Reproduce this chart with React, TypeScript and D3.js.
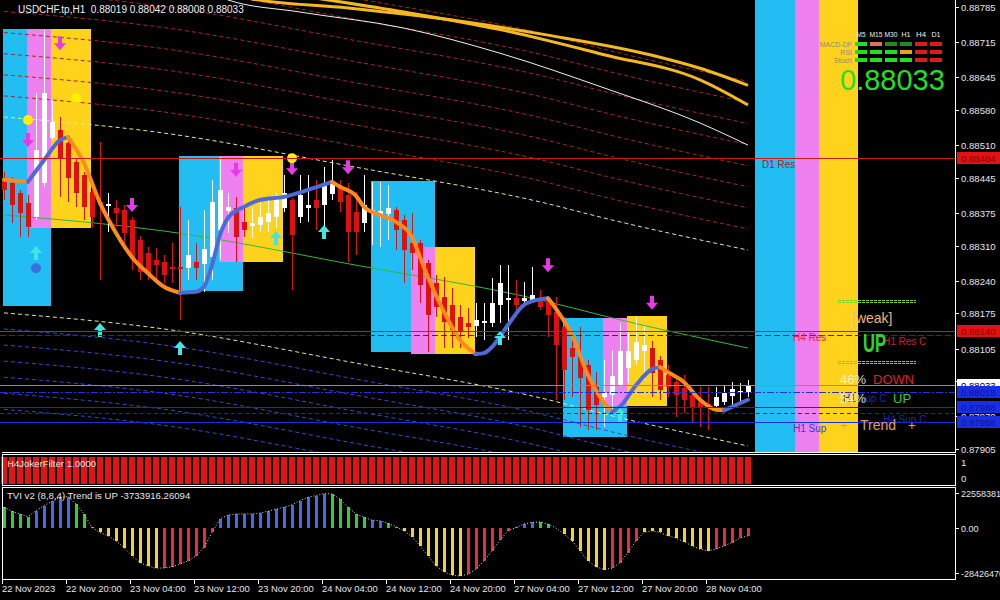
import React from "react";
import * as d3 from "d3";

const FONT = "'Liberation Sans', Arial, sans-serif";

// ---------- axis labels ----------
const timeLabels = ["22 Nov 2023", "22 Nov 20:00", "23 Nov 04:00", "23 Nov 12:00", "23 Nov 20:00", "24 Nov 04:00", "24 Nov 12:00", "24 Nov 20:00", "27 Nov 04:00", "27 Nov 12:00", "27 Nov 20:00", "28 Nov 04:00"];
const timeLabelBar = [0, 8, 16, 24, 32, 40, 48, 56, 64, 72, 80, 88];
const priceTicks = [0.88785, 0.88715, 0.88645, 0.8858, 0.8851, 0.88445, 0.88375, 0.8831, 0.8824, 0.88175, 0.88105, 0.8804, 0.8797, 0.87905];

// ---------- candles (H1) ----------
const open = [
  0.88441, 0.88435, 0.88415, 0.88395, 0.88367, 0.88435, 0.88524, 0.8854, 0.88514, 0.88476,
  0.88451, 0.88417, 0.88397, 0.88389, 0.88385, 0.88381, 0.88361, 0.88321, 0.88295, 0.88281,
  0.88277, 0.88267, 0.88267, 0.88265, 0.88277, 0.88273, 0.88287, 0.88341, 0.88379, 0.88385,
  0.88357, 0.88349, 0.88351, 0.88357, 0.88367, 0.88385, 0.88401, 0.88367, 0.88385, 0.88401,
  0.88391, 0.88413, 0.88427, 0.88411, 0.88377, 0.88355, 0.88375, 0.88373, 0.88373, 0.88381,
  0.88361, 0.88315, 0.88315, 0.88275, 0.88235, 0.88208, 0.88192, 0.88168, 0.88156, 0.8815,
  0.88156, 0.88156, 0.88192, 0.88202, 0.88206, 0.882, 0.882, 0.88202, 0.88202, 0.88178,
  0.88148, 0.88106, 0.88088, 0.88072, 0.88028, 0.88009, 0.88012, 0.8803, 0.88066, 0.88082,
  0.881, 0.88106, 0.88082, 0.88052, 0.88038, 0.88026, 0.88012, 0.87999, 0.87995, 0.87991,
  0.87999, 0.88011, 0.88018, 0.88019];
const close = [
  0.88421, 0.88391, 0.88375, 0.88347, 0.885, 0.88614, 0.88556, 0.88484, 0.88445, 0.88415,
  0.88387, 0.88367, 0.88391, 0.88393, 0.88375, 0.88335, 0.88285, 0.88257, 0.88255, 0.88271,
  0.88251, 0.88263, 0.88263, 0.88291, 0.88265, 0.88303, 0.88397, 0.88421, 0.88387, 0.88327,
  0.88341, 0.88355, 0.88367, 0.88375, 0.88405, 0.88415, 0.88331, 0.88411, 0.88391, 0.88385,
  0.88431, 0.88435, 0.88397, 0.88337, 0.88337, 0.88391, 0.88381, 0.88379, 0.88385, 0.88341,
  0.88301, 0.88295, 0.88232, 0.88172, 0.88188, 0.88158, 0.88142, 0.88138, 0.88148, 0.88162,
  0.8816, 0.88196, 0.88235, 0.88206, 0.88192, 0.88206, 0.88212, 0.88188, 0.88172, 0.88112,
  0.88062, 0.88088, 0.88046, 0.87983, 0.87993, 0.88017, 0.8805, 0.881, 0.881, 0.88118,
  0.88112, 0.88056, 0.88022, 0.88028, 0.88012, 0.88003, 0.87989, 0.87987, 0.87989, 0.88009,
  0.88017, 0.88024, 0.8802, 0.88033];
const high = [
  0.88456, 0.88447, 0.88421, 0.88411, 0.88614, 0.88739, 0.886, 0.88566, 0.8852, 0.88484,
  0.88456, 0.88421, 0.88516, 0.88415, 0.88401, 0.88391, 0.88367, 0.88329, 0.88307, 0.88305,
  0.88291, 0.88315, 0.88387, 0.88361, 0.88315, 0.88381, 0.88441, 0.88486, 0.88415, 0.88407,
  0.88387, 0.88387, 0.88395, 0.88401, 0.88415, 0.88451, 0.88405, 0.88451, 0.88451, 0.88441,
  0.88466, 0.8848, 0.88441, 0.88435, 0.88417, 0.88451, 0.88437, 0.88437, 0.88431, 0.88387,
  0.88371, 0.88375, 0.88321, 0.88281, 0.88251, 0.88247, 0.88226, 0.88192, 0.88186, 0.88196,
  0.88196, 0.88245, 0.88271, 0.88271, 0.88241, 0.88237, 0.88267, 0.88222, 0.88208, 0.88208,
  0.88168, 0.88126, 0.88148, 0.88082, 0.88058, 0.88082, 0.88102, 0.88156, 0.8814, 0.88168,
  0.8815, 0.8812, 0.8809, 0.88072, 0.88052, 0.88052, 0.88022, 0.88028, 0.88028, 0.88028,
  0.88032, 0.88038, 0.88036, 0.88042];
const low = [
  0.88401, 0.88355, 0.88327, 0.88327, 0.88361, 0.88427, 0.8852, 0.88407, 0.88397, 0.88387,
  0.88361, 0.88347, 0.88241, 0.88337, 0.88347, 0.88301, 0.88261, 0.88241, 0.88241, 0.88241,
  0.88235, 0.88235, 0.88162, 0.88241, 0.88241, 0.88218, 0.88241, 0.88281, 0.88335, 0.88277,
  0.88327, 0.88325, 0.88337, 0.88337, 0.88345, 0.88377, 0.88222, 0.88355, 0.88357, 0.88341,
  0.88341, 0.88401, 0.88377, 0.88277, 0.88291, 0.88337, 0.88311, 0.88307, 0.88321, 0.88301,
  0.88235, 0.88261, 0.88196, 0.88098, 0.88168, 0.88106, 0.88106, 0.88106, 0.88126, 0.88128,
  0.88122, 0.88148, 0.88156, 0.88122, 0.88168, 0.88196, 0.88196, 0.88182, 0.88128, 0.88003,
  0.88003, 0.88009, 0.87949, 0.87943, 0.87943, 0.87949, 0.87977, 0.88028, 0.88036, 0.88072,
  0.88042, 0.88009, 0.88003, 0.88009, 0.87969, 0.87977, 0.87957, 0.87949, 0.87943, 0.87983,
  0.87993, 0.87989, 0.87999, 0.88008];

// ---------- smoothed trend line (blue rising / orange falling) ----------
const hmaBar = [0, 3, 5, 7, 8, 10, 12, 14, 16, 18, 20, 22, 24, 25, 26, 27, 28, 30, 32, 35, 38, 41, 42, 44, 45, 47, 49, 51, 52, 53, 55, 57, 59, 60, 61, 63, 65, 67, 68, 69, 71, 73, 75, 76, 77, 79, 81, 82, 83, 85, 87, 89, 90, 91, 93];
const hmaVal = [0.88441, 0.88437, 0.8848, 0.8852, 0.88526, 0.88474, 0.88395, 0.88335, 0.88287, 0.88255, 0.88228, 0.88216, 0.88218, 0.88228, 0.88271, 0.88331, 0.88365, 0.88387, 0.88401, 0.88407, 0.88421, 0.88437, 0.88427, 0.88409, 0.88387, 0.88371, 0.88357, 0.88327, 0.88287, 0.88247, 0.88178, 0.88122, 0.88094, 0.88096, 0.88108, 0.88152, 0.88192, 0.88203, 0.88205, 0.88184, 0.88132, 0.88052, 0.87997, 0.87979, 0.87989, 0.88032, 0.88064, 0.88068, 0.88058, 0.88038, 0.88003, 0.87983, 0.87982, 0.87989, 0.88003];

// ---------- moving average + envelope ----------
const maBar = [0, 20, 44, 67, 76, 93];
const maVal = [0.88371, 0.88339, 0.88271, 0.88202, 0.88166, 0.88106];
const envYellowOffset = 0.00195;
const envUpperOffsets = [0.00237, 0.00279, 0.00321, 0.00363, 0.00405, 0.00447, 0.00489, 0.00531];
const envLowerOffsets = [0.00227, 0.00259, 0.00291, 0.00323, 0.00355, 0.00387];

// ---------- long moving averages (top right) ----------
const whiteMaBar = [26, 28, 37, 50, 62, 75, 87, 93];
const whiteMaVal = [0.88815, 0.88799, 0.88775, 0.88743, 0.88693, 0.88624, 0.88554, 0.8851];
const goldMa1Bar = [29, 31, 43, 56, 68, 81, 87, 93];
const goldMa1Val = [0.88815, 0.88801, 0.88783, 0.88759, 0.88729, 0.88689, 0.88663, 0.88629];
const goldMa2Bar = [38, 50, 62, 75, 87, 93];
const goldMa2Val = [0.88805, 0.88775, 0.8874, 0.8869, 0.8864, 0.8859];

// ---------- zones ----------
const zoneFrom = [-0.125, 2.875, 5.875, 21.875, 26.875, 29.875, 45.875, 50.875, 53.875, 69.875, 74.875, 77.875, 93.875, 98.875, 101.875];
const zoneTo = [5.875, 5.875, 10.875, 29.875, 29.875, 34.875, 53.875, 53.875, 58.875, 77.875, 77.875, 82.875, 98.875, 101.875, 106.75];
const zoneTop = [0.88741, 0.88741, 0.88741, 0.88488, 0.88488, 0.88488, 0.88439, 0.88307, 0.88307, 0.88166, 0.88166, 0.8817, 0.8881, 0.8881, 0.8881];
const zoneBottom = [0.8819, 0.88345, 0.88345, 0.8822, 0.88277, 0.88277, 0.88098, 0.88094, 0.88094, 0.87929, 0.87991, 0.87991, 0.8788, 0.8788, 0.8788];
const zoneKind = ["c", "m", "g", "c", "m", "g", "c", "m", "g", "c", "m", "g", "c", "m", "g"];

// ---------- signals ----------
const downArrowBar = [7, 3, 16, 29, 36, 43, 68, 81];
const downArrowPrice = [0.88713, 0.8852, 0.88391, 0.88461, 0.88464, 0.88466, 0.88271, 0.88196];
const upArrowBar = [4, 12, 22, 34, 40, 62, 77];
const upArrowPrice = [0.88295, 0.88142, 0.88106, 0.88325, 0.88337, 0.88126, 0.87973];
const yellowDotBar = [3, 9, 36];
const yellowDotPrice = [0.8856, 0.88604, 0.88484];
const blueDotBar = [4];
const blueDotPrice = [0.88265];

// ---------- levels ----------
const levelPrice = [0.88484, 0.8814, 0.88132, 0.88033, 0.88018, 0.87988, 0.87977, 0.87958];
const levelColor = ["#c81818", "#d41818", "#8a1010", "#8c8c8c", "#2232d8", "#1a28c8", "#1a2aa0", "#1a30e0"];
const levelDash = ["", "", "6,3", "", "7,2,2,2", "", "4,3", ""];
const levelLabel = ["D1 Res", "H4 Res", "H1 Res C", "", "H1 Sup C", "", "H4 Sup C", "H1 Sup"];
const levelLabelX = [762, 793, 883, 0, 843, 0, 883, 793];
const levelLabelColor = ["#b42020", "#e02848", "#d02020", "", "#1a2ab0", "", "#1a2ab0", "#2a40e8"];
const levelBoxFill = ["#e31212", "#e31212", "", "#ffffff", "#1a2ee8", "#1a2ee8", "", "#1a2ee8"];
const levelBoxText = ["#8a0000", "#8a0000", "", "#000000", "#0a1690", "#0a1690", "", "#0a1690"];

// ---------- sub indicators ----------
const joker = [1, 1, 1, 1, 1, 1, 1, 1, 1, 1, 1, 1, 1, 1, 1, 1, 1, 1, 1, 1, 1, 1, 1, 1, 1, 1, 1, 1, 1, 1, 1, 1, 1, 1, 1, 1, 1, 1, 1, 1, 1, 1, 1, 1, 1, 1, 1, 1, 1, 1, 1, 1, 1, 1, 1, 1, 1, 1, 1, 1, 1, 1, 1, 1, 1, 1, 1, 1, 1, 1, 1, 1, 1, 1, 1, 1, 1, 1, 1, 1, 1, 1, 1, 1, 1, 1, 1, 1, 1, 1, 1, 1, 1, 1];
const tvi = [
  13.4, 10.9, 9.2, 7.5, 11.3, 14.5, 17.3, 19.8, 20.3, 15.6,
  9.2, 0.6, -2.6, -4.7, -7.9, -12.2, -17.5, -21.8, -23.9, -25.4,
  -25.2, -24.5, -22.8, -20.7, -17.5, -12.2, -2.6, 6.0, 8.5, 9.2,
  9.2, 9.2, 9.8, 10.9, 12.4, 13.4, 15.1, 17.7, 19.8, 20.9,
  22.2, 21.9, 18.8, 13.4, 9.2, 7.0, 5.3, 4.9, 3.2, 1.1,
  -1.5, -5.3, -11.1, -17.5, -23.9, -27.5, -29.9, -30.3, -29.2, -26.0,
  -20.7, -14.3, -7.5, -1.5, 0.6, 2.8, 3.8, 4.1, 2.8, 0.2,
  -3.6, -7.9, -14.3, -20.7, -24.5, -26.2, -25.4, -21.8, -15.4, -7.9,
  -2.6, -1.5, -2.6, -4.7, -6.2, -8.5, -11.1, -13.2, -14.3, -13.2,
  -11.1, -9.0, -6.2, -4.7];
const tviState = "GGGGBBBBBGGGYYYYYYYYRRRRRRRBBBBBBBBBBBBBBGGGGGBBGGYYYYYYYYRRRRRRBBBGGGYYYYYYRRRRYYYYYYYYYRRRRR";
const tviAxisValues = [22.558381, 0, -28.42647];
const tviAxisLabels = ["22558381.", "0.00", "-28426470"];

// ---------- multi timeframe panel ----------
const mtfFrames = ["M5", "M15", "M30", "H1", "H4", "D1"];
const mtfFrameWidth = [9, 13, 13, 9, 10, 9];
const mtfRowNames = ["MACD-DF", "RSI", "Stoch"];
const mtfRow0 = ["#22dd22", "#e07060", "#1f8a1f", "#1f8a1f", "#e01818", "#e01818"];
const mtfRow1 = ["#22dd22", "#22dd22", "#22dd22", "#e8a020", "#e01818", "#e01818"];
const mtfRow2 = ["#22dd22", "#22dd22", "#22dd22", "#22dd22", "#e01818", "#e01818"];

const ZONE_COL: Record<string, string> = { c: "#22bdf2", m: "#ef80ef", g: "#ffd31c" };
const TVI_COL: Record<string, string> = { G: "#33cc33", B: "#4a6ae0", Y: "#f2d232", R: "#e03048" };

function downArrow(cx: number, cy: number) {
  return `M${cx - 2},${cy - 7}H${cx + 2}V${cy}H${cx + 6}L${cx},${cy + 7}L${cx - 6},${cy}H${cx - 2}Z`;
}
function upArrow(cx: number, cy: number) {
  return `M${cx - 2},${cy + 7}H${cx + 2}V${cy}H${cx + 6}L${cx},${cy - 7}L${cx - 6},${cy}H${cx - 2}Z`;
}

export default function App() {
  const x = d3.scaleLinear().domain([0, 93]).range([4, 748]);
  const y = d3.scaleLinear().domain([0.87905, 0.88785]).range([449, 7]);
  const yJ = d3.scaleLinear().domain([0, 1]).range([484, 457]);
  const yT = d3.scaleLinear().domain([-28.42647, 22.558381]).range([573, 493]);

  const line = d3.line<[number, number]>().curve(d3.curveMonotoneX);
  const bandPath = (off: number) => line(maBar.map((b, i) => [x(b), y(maVal[i] + off)] as [number, number])) || "";

  // split smoothed line into rising / falling runs
  const runs: { up: boolean; pts: [number, number][] }[] = [];
  let cur: [number, number][] = [[x(hmaBar[0]), y(hmaVal[0])]];
  let dir = hmaVal[1] >= hmaVal[0];
  for (let i = 1; i < hmaBar.length; i++) {
    const d = hmaVal[i] >= hmaVal[i - 1];
    if (d !== dir && cur.length > 1) {
      runs.push({ up: dir, pts: cur });
      cur = [[x(hmaBar[i - 1]), y(hmaVal[i - 1])]];
      dir = d;
    }
    cur.push([x(hmaBar[i]), y(hmaVal[i])]);
  }
  runs.push({ up: dir, pts: cur });

  const tviLine = d3.line<number>().x((_, i) => x(i)).y((v) => yT(v));

  const txt = (props: any, s: string) => (
    <text fontFamily={FONT} fontSize={9.6} fill="#e6e6e6" {...props}>{s}</text>
  );

  return (
    <svg width={1000} height={600} style={{ position: "absolute", left: 0, top: 0, background: "#000" }}>
      <rect x={0} y={0} width={1000} height={600} fill="#000" />
      <defs>
        <clipPath id="main"><rect x={0} y={0} width={955} height={452} /></clipPath>
      </defs>

      <g clipPath="url(#main)">
        {/* zones */}
        {zoneFrom.map((f, i) => (
          <rect key={"z" + i} x={x(f)} width={x(zoneTo[i]) - x(f)} y={y(zoneTop[i])} height={y(zoneBottom[i]) - y(zoneTop[i])} fill={ZONE_COL[zoneKind[i]]} shapeRendering="crispEdges" />
        ))}

        {/* envelope bands */}
        {envUpperOffsets.map((o, i) => (
          <path key={"u" + i} d={bandPath(o)} fill="none" stroke="#a82828" strokeWidth={1} strokeDasharray="4,3" />
        ))}
        <path d={bandPath(envYellowOffset)} fill="none" stroke="#e8e88a" strokeWidth={1} strokeDasharray="4,3" />
        <path d={bandPath(-envYellowOffset)} fill="none" stroke="#e8e88a" strokeWidth={1} strokeDasharray="4,3" />
        {envLowerOffsets.map((o, i) => (
          <path key={"l" + i} d={bandPath(-o)} fill="none" stroke="#2f4fc8" strokeWidth={1} strokeDasharray="4,3" />
        ))}
        <path d={line(maBar.map((b, i) => [x(b), y(maVal[i])] as [number, number])) || ""} fill="none" stroke="#3cb43c" strokeWidth={1} />

        {/* long MAs */}
        <path d={line(whiteMaBar.map((b, i) => [x(b), y(whiteMaVal[i])] as [number, number])) || ""} fill="none" stroke="#f0f0f0" strokeWidth={1} />
        <path d={line(goldMa1Bar.map((b, i) => [x(b), y(goldMa1Val[i])] as [number, number])) || ""} fill="none" stroke="#f5b820" strokeWidth={3} />
        <path d={line(goldMa2Bar.map((b, i) => [x(b), y(goldMa2Val[i])] as [number, number])) || ""} fill="none" stroke="#f5b820" strokeWidth={3} />

        {/* candles */}
        {open.map((o, i) => {
          const c = close[i];
          const up = c >= o;
          const col = up ? "#ffffff" : "#e01010";
          const t = y(Math.max(o, c));
          const b = y(Math.min(o, c));
          return (
            <g key={"c" + i} shapeRendering="crispEdges">
              <line x1={x(i) + 0.5} x2={x(i) + 0.5} y1={y(high[i])} y2={y(low[i])} stroke={col} />
              <rect x={x(i) - 2} y={t} width={5} height={Math.max(1, b - t)} fill={col} />
            </g>
          );
        })}

        {/* smoothed line */}
        {runs.map((r, i) => (
          <path key={"h" + i} d={line(r.pts) || ""} fill="none" stroke={r.up ? "#4f6ad8" : "#ff8a1c"} strokeWidth={4} strokeLinecap="round" />
        ))}

        {/* signals */}
        {downArrowBar.map((b, i) => (
          <path key={"da" + i} d={downArrow(x(b), y(downArrowPrice[i]))} fill="#e838e8" />
        ))}
        {upArrowBar.map((b, i) => (
          <path key={"ua" + i} d={upArrow(x(b), y(upArrowPrice[i]))} fill="#40e6e6" />
        ))}
        {yellowDotBar.map((b, i) => (
          <circle key={"yd" + i} cx={x(b)} cy={y(yellowDotPrice[i])} r={5} fill="#fff000" />
        ))}
        {blueDotBar.map((b, i) => (
          <circle key={"bd" + i} cx={x(b)} cy={y(blueDotPrice[i])} r={5} fill="#3a70e0" />
        ))}

        {/* levels */}
        {levelPrice.map((p, i) => (
          <line key={"lv" + i} x1={0} x2={955} y1={Math.round(y(p)) + 0.5} y2={Math.round(y(p)) + 0.5} stroke={levelColor[i]} strokeDasharray={levelDash[i] || undefined} />
        ))}
        {levelPrice.map((p, i) =>
          levelLabel[i] ? (
            <text key={"ll" + i} x={levelLabelX[i]} y={y(p) + 10} fontFamily={FONT} fontSize={10} fill={levelLabelColor[i]}>{levelLabel[i]}</text>
          ) : null
        )}

        {/* info panel */}
        <line x1={838} x2={916} y1={300.5} y2={300.5} stroke="#88d020" strokeDasharray="3,1" />
        <line x1={838} x2={916} y1={302.5} y2={302.5} stroke="#88d020" strokeDasharray="3,1" />
        <line x1={838} x2={916} y1={361.5} y2={361.5} stroke="#88d020" strokeDasharray="3,1" />
        <line x1={838} x2={916} y1={363.5} y2={363.5} stroke="#88d020" strokeDasharray="3,1" />
        <text x={852} y={323} fontFamily={FONT} fontSize={14} fill="#e8b878">
          <tspan fill="#d8c0a0">[</tspan>weak]
        </text>
        <text x={863} y={352} fontFamily={FONT} fontSize={25} fontWeight="bold" fill="#2cd42c" textLength={23} lengthAdjust="spacingAndGlyphs">UP</text>
        <text x={840} y={384} fontFamily={FONT} fontSize={13} fill="#fff8e0" fillOpacity={0.85}>46%</text>
        <text x={873} y={384} fontFamily={FONT} fontSize={13} fill="#e02020">DOWN</text>
        <text x={840} y={403} fontFamily={FONT} fontSize={13} fill="#fff8e0" fillOpacity={0.85}>54%</text>
        <text x={893} y={403} fontFamily={FONT} fontSize={13} fill="#30d030">UP</text>
        <text x={840} y={430} fontFamily={FONT} fontSize={13} fill="#e0a060">+</text>
        <text x={860} y={430} fontFamily={FONT} fontSize={14} fill="#e0a060">Trend</text>
        <text x={908} y={430} fontFamily={FONT} fontSize={13} fill="#e0a060">+</text>

        {/* multi timeframe panel */}
        {mtfFrames.map((f, j) => (
          <text key={"tf" + j} x={861 + j * 15} y={37} fontFamily={FONT} fontSize={8} fill="#f0f0f0" textAnchor="middle" textLength={mtfFrameWidth[j]} lengthAdjust="spacingAndGlyphs">{f}</text>
        ))}
        {mtfRowNames.map((n, r) => (
          <text key={"rn" + r} x={852} y={47 + r * 8} fontFamily={FONT} fontSize={7} fill="#8a8a7a" textAnchor="end">{n}</text>
        ))}
        {[mtfRow0, mtfRow1, mtfRow2].map((row, r) =>
          row.map((c, j) => <rect key={"m" + r + j} x={855 + j * 15} y={42 + r * 8} width={12} height={4} fill={c} />)
        )}
        <text x={840} y={90} fontFamily={FONT} fontSize={29} fill="#22e022">0.88033</text>

        {/* title */}
        <text x={18} y={13} fontFamily={FONT} fontSize={10} fill="#f0f0f0" style={{ whiteSpace: "pre" }}>{"USDCHF.tp,H1  0.88019 0.88042 0.88008 0.88033"}</text>
      </g>

      {/* joker filter panel */}
      {joker.map((v, i) => (
        <rect key={"j" + i} x={x(i) - 3} y={yJ(v)} width={6} height={yJ(0) - yJ(v)} fill="#e41414" shapeRendering="crispEdges" />
      ))}
      {txt({ x: 7, y: 467 }, "H4JokerFilter 1.0000")}

      {/* TVI panel */}
      {tvi.map((v, i) => (
        <rect key={"t" + i} x={x(i) - 1} y={Math.min(yT(v), yT(0))} width={3} height={Math.abs(yT(v) - yT(0))} fill={TVI_COL[tviState[i]]} shapeRendering="crispEdges" />
      ))}
      <path d={tviLine(tvi) || ""} fill="none" stroke="#e0e0e0" strokeWidth={1} strokeDasharray="1,2" />
      {txt({ x: 7, y: 499 }, "TVI v2 (8,8,4) Trend is UP -3733916.26094")}

      {/* frames */}
      <g stroke="#ffffff" fill="none" shapeRendering="crispEdges">
        <line x1={955.5} x2={955.5} y1={0} y2={452} />
        <line x1={2} x2={956} y1={452.5} y2={452.5} />
        <rect x={2.5} y={454.5} width={953} height={31} />
        <rect x={2.5} y={487.5} width={953} height={92} />
      </g>

      {/* price axis */}
      {priceTicks.map((p, i) => (
        <g key={"pt" + i}>
          <line x1={955} x2={959} y1={Math.round(y(p)) + 0.5} y2={Math.round(y(p)) + 0.5} stroke="#fff" />
          {txt({ x: 961, y: y(p) + 4 }, p.toFixed(5))}
        </g>
      ))}
      {levelPrice.map((p, i) =>
        levelBoxFill[i] ? (
          <g key={"bx" + i}>
            <rect x={957} y={Math.round(y(p)) - 6} width={43} height={12} fill={levelBoxFill[i]} />
            <text x={961} y={y(p) + 4} fontFamily={FONT} fontSize={9.6} fill={levelBoxText[i]}>{p.toFixed(5)}</text>
          </g>
        ) : null
      )}
      {/* sub-panel axes */}
      {txt({ x: 961, y: yJ(1) + 9 }, "1")}
      {txt({ x: 961, y: yJ(0) - 2 }, "0")}
      {tviAxisValues.map((v, i) => (
        <g key={"ta" + i}>
          <line x1={955} x2={959} y1={Math.round(yT(v)) + 0.5} y2={Math.round(yT(v)) + 0.5} stroke="#fff" />
          {txt({ x: 961, y: yT(v) + 4, fontSize: 9 }, tviAxisLabels[i])}
        </g>
      ))}

      {/* time axis */}
      {timeLabelBar.map((b, i) => (
        <g key={"tl" + i}>
          <line x1={x(b) - 1.5} x2={x(b) - 1.5} y1={580} y2={584} stroke="#fff" />
          {txt({ x: x(b) - 2, y: 592, fontSize: 9.4 }, timeLabels[i])}
        </g>
      ))}
    </svg>
  );
}
